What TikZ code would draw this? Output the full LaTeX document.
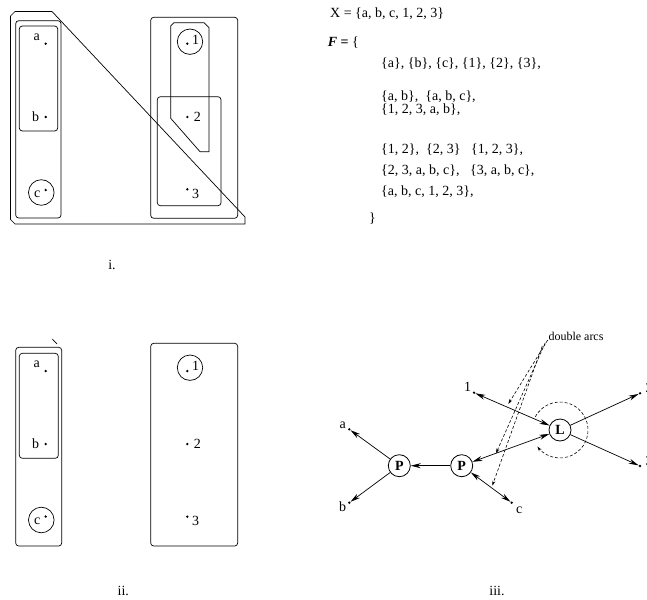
\documentclass[tikz,border=0pt]{standalone}
\usepackage{fontspec}
\setmainfont{Liberation Serif}
\usetikzlibrary{arrows.meta,positioning}
\tikzset{
  pt/.style={circle,fill=black,inner sep=0pt,minimum size=2.6pt},
  lbl/.style={inner sep=0pt,font=\fontsize{14}{16}\selectfont},
  txt/.style={inner sep=0pt,anchor=west,font=\fontsize{14}{16}\selectfont},
  grp/.style={draw,rounded corners=3pt,line width=0.7pt},
  hub/.style={circle,draw,line width=0.8pt,minimum size=22pt,inner sep=0pt,font=\fontsize{14}{16}\selectfont\bfseries},
  edge/.style={-{Stealth[length=10pt,width=5pt]},line width=0.7pt},
  bothway/.style={{Stealth[length=10pt,width=5pt]}-{Stealth[length=10pt,width=5pt]},line width=0.7pt},
  note/.style={densely dashed,line width=0.6pt,-{Stealth[length=5pt,width=3pt]}},
}
\begin{document}
\begin{tikzpicture}[x=1pt,y=-1pt]
  \useasboundingbox (0,0) rectangle (647,599);
  % panel i
  \draw[line width=0.7pt] (15,11.5) -- (52,11.5) -- (245,217) -- (245,224) -- (15,224)
    -- (10.5,219.5) -- (10.5,16) -- cycle;
  \draw[grp] (15.7,20.7) rectangle (61,218);
  \draw[grp] (19.3,26) rectangle (57.7,131);
  \draw[line width=0.7pt] (41.3,192.5) circle (12.8pt);
  \draw[grp] (150.7,17.3) rectangle (237.7,218.3);
  \draw[grp] (157.3,96.7) rectangle (221,205.7);
  \draw[line width=0.7pt] (174,22.7) -- (204,22.7) -- (209,27.7) -- (209,151.7) -- (200,151.7)
    -- (170.7,118.3) -- (170.7,26) -- cycle;
  \draw[line width=0.7pt] (190,41.7) circle (12.7pt);
  \foreach \n/\x/\y in {a/45.7/43.7, b/45.7/117, c/45.7/190, 1/187.3/43.7, 2/187.3/117, 3/187.3/189.3}
    \node[pt] (i\n) at (\x,\y) {};
  \foreach \n/\x/\y in {a/36.7/37, b/35.7/117, c/37.3/194, 1/195.5/40, 2/197.3/117, 3/195.5/194}
    \node[lbl] (li\n) at (\x,\y) {\n};
  \node[lbl] (capi) at (112,265) {i.};
  % panel ii
  \draw[line width=0.7pt] (52.3,339) -- (57,344);
  \draw[grp] (15.7,347.3) rectangle (61.7,546);
  \draw[grp] (19.3,353.3) rectangle (58.3,458.3);
  \draw[line width=0.7pt] (41.3,520) circle (12.8pt);
  \draw[grp] (150.7,343.3) rectangle (237.7,546);
  \draw[line width=0.7pt] (190,367.7) circle (12.7pt);
  \foreach \n/\x/\y in {a/45.7/371, b/45.7/444, c/45.7/516.5, 1/187.3/371, 2/187.3/444, 3/187.3/516.7}
    \node[pt] (ii\n) at (\x,\y) {};
  \foreach \n/\x/\y in {a/36.7/364, b/35.7/444, c/37.3/521, 1/195.5/366, 2/197.3/444, 3/195.5/521}
    \node[lbl] (lii\n) at (\x,\y) {\n};
  \node[lbl] (capii) at (123.3,591) {ii.};
  % the family F
  \node[txt] (setX) at (330,14) {X = \{a, b, c, 1, 2, 3\}};
  \node[txt] (famF) at (327.7,42.7) {{\bfseries\itshape F} {\bfseries =} \{};
  \node[txt] (row1) at (381,64) {\{a\}, \{b\}, \{c\}, \{1\}, \{2\}, \{3\},};
  \node[txt] (row2) at (381,96.7) {\{a, b\},\ \ \{a, b, c\},};
  \node[txt] (row3) at (381,109.3) {\{1, 2, 3, a, b\},};
  \node[txt] (row4) at (381,150) {\{1, 2\},\ \ \{2, 3\}\ \ \ \{1, 2, 3\},};
  \node[txt] (row5) at (381,171) {\{2, 3, a, b, c\},\ \ \ \{3, a, b, c\},};
  \node[txt] (row6) at (381,191.7) {\{a, b, c, 1, 2, 3\},};
  \node[txt] (close) at (369,218.3) {\}};
  % panel iii
  \node[hub] (L) at (560,430) {L};
  \node[hub] (Pr) at (461.7,465.7) {P};
  \node[hub] (Pl) at (399.3,465.7) {P};
  \node[pt] (e1) at (474,392.7) {};
  \node[pt] (ea) at (349.3,429.3) {};
  \node[pt] (eb) at (349.3,502.7) {};
  \node[pt] (ec) at (511.7,502.7) {};
  \node[pt] (e2) at (640,393.3) {};
  \node[pt] (e3) at (640,466) {};
  \node[lbl] (le1) at (467.7,386.7) {1};
  \node[lbl] (lea) at (342.7,425) {a};
  \node[lbl] (leb) at (342.7,506.7) {b};
  \node[lbl] (lec) at (519.3,510.7) {c};
  \node[lbl] (le2) at (649,388) {2};
  \node[lbl] (le3) at (649,461) {3};
  \draw[edge] (Pl) -- (ea);
  \draw[edge] (Pl) -- (eb);
  \draw[edge] (Pr) -- (Pl);
  \draw[bothway] (Pr) -- (L);
  \draw[bothway] (e1) -- (L);
  \draw[bothway] (Pr) -- (ec);
  \draw[edge] (L) -- (e2);
  \draw[edge] (L) -- (e3);
  \draw[note] (560,430) ++(-152:28) arc[start angle=-152,end angle=144,radius=28];
  \node[inner sep=0pt,anchor=west,font=\fontsize{12}{14}\selectfont] (dbl) at (548.3,336.7) {double arcs};
  \coordinate (s1) at (547.7,340);
  \coordinate (s2) at (545.3,342.7);
  \coordinate (s3) at (542.3,346);
  \coordinate (t1) at (508.3,404);
  \coordinate (t2) at (496,453.3);
  \coordinate (t3) at (492.3,485.7);
  \draw[note] (s1) -- (t1);
  \draw[note] (s2) -- (t2);
  \draw[note] (s3) -- (t3);
  \node[lbl] (capiii) at (497,591) {iii.};
\end{tikzpicture}
\end{document}
